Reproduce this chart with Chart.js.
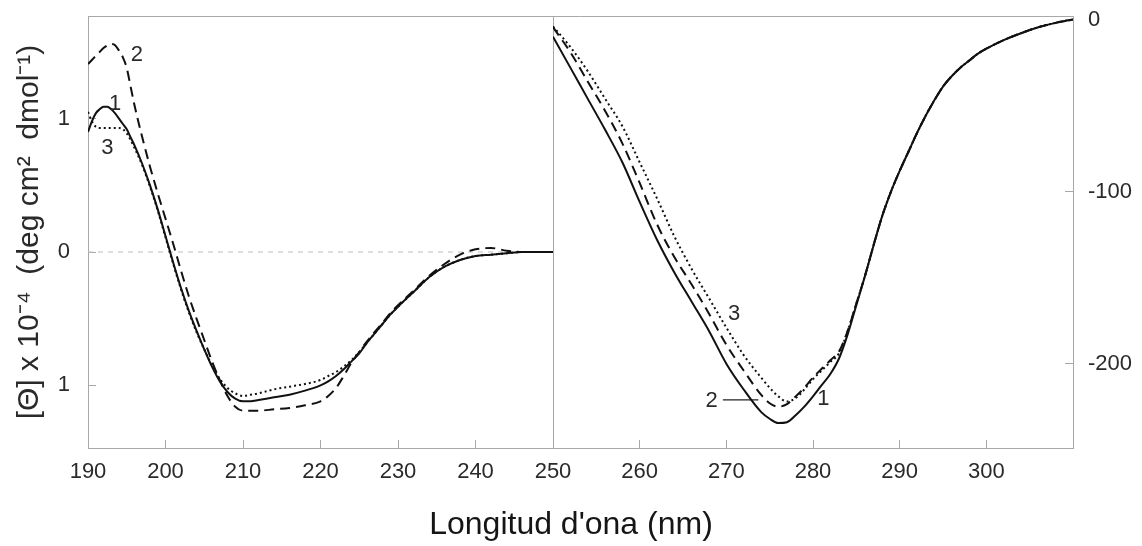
<!DOCTYPE html>
<html>
<head>
<meta charset="utf-8">
<script src="https://cdn.jsdelivr.net/npm/chart.js@4.4.1/dist/chart.umd.min.js"></script>
<style>
  html, body { margin: 0; padding: 0; background: #fff; }
  #cdChart { display: block; }
</style>
</head>
<body>
<canvas id="cdChart" width="1142" height="546"></canvas>
<script>
    // far-UV panel, 190-250 nm, values in units of 10^4
    var farNm = [190, 190.5, 191, 191.5, 192, 192.5, 193, 193.5, 194, 194.5, 195, 195.5, 196, 197, 198, 199, 200,
        201, 202, 203, 204, 205, 206, 207, 208, 209, 210, 211, 212, 214, 216, 218, 220, 221, 222, 223, 224, 225,
        226, 227, 228, 229, 230, 232, 234, 236, 238, 240, 242, 244, 246, 248, 250];
    var farCurve1 = [0.90, 0.98, 1.04, 1.07, 1.09, 1.09, 1.07, 1.04, 1.00, 0.96, 0.92, 0.86, 0.80, 0.66, 0.50, 0.32, 0.12,
        -0.08, -0.27, -0.44, -0.59, -0.73, -0.86, -0.97, -1.05, -1.10, -1.12, -1.12, -1.11, -1.09, -1.07, -1.04, -1.00, -0.97, -0.93, -0.88, -0.82, -0.76,
        -0.68, -0.61, -0.54, -0.47, -0.41, -0.30, -0.19, -0.11, -0.06, -0.03, -0.02, -0.01, 0.00, 0.00, 0.00];
    var farCurve2 = [1.41, 1.44, 1.47, 1.50, 1.53, 1.55, 1.56, 1.55, 1.51, 1.46, 1.38, 1.24, 1.10, 0.86, 0.64, 0.44, 0.25,
        0.06, -0.14, -0.33, -0.50, -0.66, -0.82, -0.96, -1.08, -1.16, -1.19, -1.19, -1.19, -1.18, -1.17, -1.15, -1.12, -1.08, -1.02, -0.93, -0.83, -0.75,
        -0.67, -0.60, -0.53, -0.46, -0.40, -0.29, -0.18, -0.09, -0.02, 0.02, 0.03, 0.01, 0.00, 0.00, 0.00];
    var farCurve3 = [1.05, 0.98, 0.94, 0.93, 0.93, 0.93, 0.93, 0.93, 0.93, 0.92, 0.89, 0.84, 0.78, 0.65, 0.49, 0.31, 0.11,
        -0.09, -0.28, -0.45, -0.60, -0.73, -0.85, -0.95, -1.02, -1.06, -1.08, -1.07, -1.06, -1.03, -1.01, -0.99, -0.96, -0.93, -0.90, -0.86, -0.81, -0.75,
        -0.68, -0.61, -0.54, -0.47, -0.41, -0.30, -0.19, -0.11, -0.06, -0.03, -0.02, -0.01, 0.00, 0.00, 0.00];

    // near-UV panel, 250-310 nm
    var nearNm = [250, 252, 254, 256, 258, 260, 262, 264, 266, 268, 270, 272, 274, 275, 276, 277, 278, 279, 280, 281, 282, 283,
        284, 285, 286, 287, 288, 289, 290, 291, 292, 293, 294, 295, 296, 297, 298, 299, 300, 302, 304, 306, 308, 310];
    var nearCurve1 = [-10, -28, -46, -64, -83, -106, -128, -147, -164, -181, -200, -215, -228, -232, -234.5, -234, -230, -225, -219, -212.5, -206, -197,
        -183, -166, -149, -131, -114, -100, -88, -77, -66, -56, -47, -39, -33, -28, -24, -20, -17, -12, -8, -4.5, -2, 0];
    var nearCurve2 = [-4.5, -19, -36, -53, -72, -95, -119, -138, -154, -171, -189, -204, -218, -223, -225, -223.5, -219, -214, -208, -203, -198, -193,
        -181, -165, -149, -131, -114, -100, -88, -77, -66, -56, -47, -39, -33, -28, -24, -20, -17, -12, -8, -4.5, -2, 0];
    var nearCurve3 = [-4, -16, -30, -46, -62, -83, -104, -126, -145, -162, -179, -195, -208, -214, -219, -222, -220, -215, -209, -204, -199, -194,
        -181, -165, -149, -131, -114, -100, -88, -77, -66, -56, -47, -39, -33, -28, -24, -20, -17, -12, -8, -4.5, -2, 0];

    // axis ticks
    var farTicksX = [190, 200, 210, 220, 230, 240, 250];
    var nearTicksX = [260, 270, 280, 290, 300];
    var farTicksY = [-1, 0, 1];
    var farTickText = ['1', '0', '1'];
    var nearTicksY = [-200, -100, 0];

    // curve numbers written next to the lines
    var farLabelText = ['2', '1', '3'];
    var farLabelNm = [196.3, 193.5, 192.5];
    var farLabelVal = [1.48, 1.11, 0.78];
    var nearLabelText = ['3', '2', '1'];
    var nearLabelNm = [270.9, 268.3, 281.2];
    var nearLabelVal = [-171, -221.7, -220.6];
    var pointerNm = [269.6, 273.7];
    var pointerVal = [-221, -221];

    var fontFamily = '"Liberation Sans", Arial, sans-serif';
    Chart.defaults.font.family = fontFamily;
    Chart.defaults.color = '#2a2a2a';

    function pts(xs, ys) {
        return xs.map(function (x, i) { return {x: x, y: ys[i]}; });
    }

    function curve(xs, ys, dash, xId, yId) {
        return {
            data: pts(xs, ys),
            xAxisID: xId, yAxisID: yId,
            borderColor: '#111',
            borderWidth: 2,
            borderDash: dash,
            pointRadius: 0,
            cubicInterpolationMode: 'monotone',
            fill: false
        };
    }

    var frameColor = '#a8a8a8';

    var extras = {
        id: 'extras',
        beforeDatasetsDraw: function (chart) {
            var ctx = chart.ctx, a = chart.chartArea;
            var xd = Math.round(chart.scales.xL.getPixelForValue(250)) + 0.5;
            ctx.save();
            ctx.strokeStyle = frameColor;
            ctx.lineWidth = 1;
            ctx.beginPath();
            ctx.moveTo(a.left, a.top + 0.5);
            ctx.lineTo(a.right, a.top + 0.5);
            ctx.moveTo(xd, a.top);
            ctx.lineTo(xd, a.bottom);
            ctx.stroke();
            ctx.restore();
        },
        afterDatasetsDraw: function (chart) {
            var ctx = chart.ctx, s = chart.scales;
            ctx.save();
            ctx.font = '22px ' + fontFamily;
            ctx.fillStyle = '#2a2a2a';
            ctx.textAlign = 'center';
            ctx.textBaseline = 'middle';
            farLabelText.forEach(function (t, i) {
                ctx.fillText(t, s.xL.getPixelForValue(farLabelNm[i]), s.yL.getPixelForValue(farLabelVal[i]));
            });
            nearLabelText.forEach(function (t, i) {
                ctx.fillText(t, s.xR.getPixelForValue(nearLabelNm[i]), s.yR.getPixelForValue(nearLabelVal[i]));
            });
            ctx.restore();
        }
    };

    function fixTicks(values) {
        return function (scale) {
            scale.ticks = values.map(function (v) { return {value: v}; });
        };
    }

    // fixed box sizes so the plot area lands where the original frame is
    function boxSize(w, h) {
        return function (scale) {
            if (w !== null) scale.width = w;
            if (h !== null) scale.height = h;
            scale.paddingTop = scale.paddingBottom = scale.paddingLeft = scale.paddingRight = 0;
        };
    }

    var tickFont = {size: 22};

    new Chart(document.getElementById('cdChart'), {
        type: 'line',
        data: {
            datasets: [
                {
                    data: pts([190, 250], [0, 0]),
                    xAxisID: 'xL', yAxisID: 'yL',
                    borderColor: '#bdbdbd', borderWidth: 1, borderDash: [5, 5],
                    pointRadius: 0, order: 10
                },
                curve(farNm, farCurve1, [], 'xL', 'yL'),
                curve(farNm, farCurve2, [10, 6], 'xL', 'yL'),
                curve(farNm, farCurve3, [2, 3], 'xL', 'yL'),
                curve(nearNm, nearCurve1, [], 'xR', 'yR'),
                curve(nearNm, nearCurve2, [10, 6], 'xR', 'yR'),
                curve(nearNm, nearCurve3, [2, 3], 'xR', 'yR'),
                {
                    data: pts(pointerNm, pointerVal),
                    xAxisID: 'xR', yAxisID: 'yR',
                    borderColor: '#222', borderWidth: 1.2, pointRadius: 0
                }
            ]
        },
        options: {
            responsive: false,
            animation: false,
            devicePixelRatio: 1,
            layout: {padding: {top: 16, left: 0, right: 0, bottom: 0}, autoPadding: false},
            plugins: {
                legend: {display: false},
                tooltip: {enabled: false},
                title: {
                    display: true,
                    position: 'bottom',
                    text: "Longitud d'ona (nm)",
                    color: '#151515',
                    font: {size: 32, weight: 'normal'},
                    padding: {top: 0, bottom: 2}
                }
            },
            scales: {
                xL: {
                    type: 'linear', position: 'bottom', stack: 'wl', stackWeight: 465,
                    min: 190, max: 250,
                    afterBuildTicks: fixTicks(farTicksX),
                    afterFit: boxSize(null, 57.6),
                    grid: {drawOnChartArea: false, tickLength: -8, color: frameColor},
                    border: {color: frameColor},
                    ticks: {font: tickFont, padding: 19, maxRotation: 0, autoSkip: false}
                },
                xR: {
                    type: 'linear', position: 'bottom', stack: 'wl', stackWeight: 520,
                    min: 250, max: 310,
                    afterBuildTicks: fixTicks(nearTicksX),
                    afterFit: boxSize(null, 57.6),
                    grid: {drawOnChartArea: false, tickLength: -8, color: frameColor},
                    border: {color: frameColor},
                    ticks: {font: tickFont, padding: 19, maxRotation: 0, autoSkip: false}
                },
                yL: {
                    type: 'linear', position: 'left',
                    min: -1.47, max: 1.77,
                    afterBuildTicks: fixTicks(farTicksY),
                    afterFit: boxSize(88, null),
                    grid: {drawOnChartArea: false, tickLength: -8, color: frameColor},
                    border: {color: frameColor},
                    ticks: {
                        font: tickFont, padding: 26,
                        callback: function (v) { return farTickText[farTicksY.indexOf(v)]; }
                    },
                    title: {
                        display: true,
                        text: '[\u0398] x 10\u207B\u2074  (deg cm\u00B2  dmol\u207B\u00B9)',
                        font: {size: 30},
                        padding: {top: 12, bottom: 0}
                    }
                },
                yR: {
                    type: 'linear', position: 'right',
                    min: -249, max: 2,
                    afterBuildTicks: fixTicks(nearTicksY),
                    afterFit: boxSize(69, null),
                    grid: {drawOnChartArea: false, tickLength: -8, color: frameColor},
                    border: {color: frameColor},
                    ticks: {font: tickFont, padding: 23}
                }
            }
        },
        plugins: [extras]
    });
</script>
</body>
</html>
